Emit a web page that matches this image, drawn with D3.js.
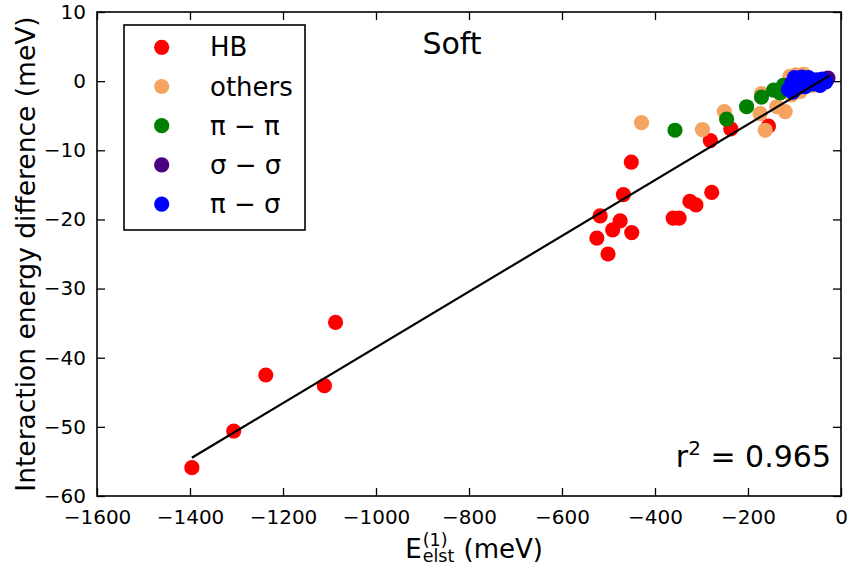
<!DOCTYPE html>
<html><head><meta charset="utf-8">
<script src="https://cdn.jsdelivr.net/npm/d3@7/dist/d3.min.js"></script>
<style>body{margin:0;background:#fff;} text{font-family:"DejaVu Sans",sans-serif;}</style>
</head><body><svg id="c" width="849" height="567"></svg>
<script>
const categories = ["HB", "others", "π − π", "σ − σ", "π − σ"];
const colors = ["#ff0000", "#f4a460", "#008000", "#4b0082", "#0000ff"];
const hbX = [-1396,-1306,-1237,-1111,-1087,-525,-518,-501,-491,-475,-468,-451,-450,-361,-348,-325,-312,-278,-281,-237,-156];
const hbY = [-55.9,-50.6,-42.5,-44.05,-34.9,-22.7,-19.5,-25.0,-21.5,-20.2,-16.4,-11.7,-21.9,-19.8,-19.8,-17.4,-17.9,-16.1,-8.6,-6.9,-6.5];
const othersX = [-429,-298,-251,-174,-163,-120,-138,-171,-106,-97,-80,-62,-88,-110];
const othersY = [-6.0,-7.0,-4.4,-4.7,-7.1,-4.4,-3.7,-1.8,-2.0,0.9,1.0,-0.6,-1.5,0.7];
const pipiX = [-357,-246,-203,-171,-145,-124,-131,-74,-88];
const pipiY = [-7.1,-5.5,-3.7,-2.3,-1.3,-0.6,-1.7,-0.3,0.2];
const sigsigX = [-28,-34,-40];
const sigsigY = [0.45,-0.1,0.2];
const pisigX = [-106,-95,-88,-67,-52,-45,-33,-77,-60,-100,-84,-70,-55,-40,-113,-104];
const pisigY = [-0.3,-1.0,-0.1,-0.1,0.2,-0.6,-0.1,-0.8,-0.4,0.5,0.6,0.5,-0.2,0.3,-1.2,-1.6];
const xTicks = [-1600,-1400,-1200,-1000,-800,-600,-400,-200,0];
const yTicks = [-60,-50,-40,-30,-20,-10,0,10];
const fitSlope = 0.0403, fitIntercept = 1.8, fitRange = [-1396, -25];
const r2Label = "0.965";
const titleText = "Soft";

const W = 849, H = 567, m = {l:97, r:8, t:12, b:71};
const svg = d3.select("#c");
const x = d3.scaleLinear().domain([-1600, 0]).range([m.l, W - m.r]);
const y = d3.scaleLinear().domain([-60, 10]).range([H - m.b, m.t]);
const fmt = d => d3.format("")(d);

const series = [[hbX,hbY],[othersX,othersY],[pipiX,pipiY],[sigsigX,sigsigY],[pisigX,pisigY]];
series.forEach((s, i) => {
  svg.append("g").selectAll("circle").data(s[0].map((v, j) => [v, s[1][j]])).join("circle")
    .attr("cx", d => x(d[0])).attr("cy", d => y(d[1])).attr("r", 7.6).attr("fill", colors[i]);
});

// fit line
svg.append("line").attr("x1", x(fitRange[0])).attr("y1", y(fitSlope*fitRange[0]+fitIntercept))
  .attr("x2", x(fitRange[1])).attr("y2", y(fitSlope*fitRange[1]+fitIntercept))
  .attr("stroke", "#000").attr("stroke-width", 2.2);

// axes with inward ticks
const tl = 8;
const axB = svg.append("g").attr("transform", `translate(0,${H-m.b})`)
  .call(d3.axisBottom(x).tickValues(xTicks).tickSizeInner(-tl).tickSizeOuter(0).tickPadding(14).tickFormat(fmt));
const axT = svg.append("g").attr("transform", `translate(0,${m.t})`)
  .call(d3.axisTop(x).tickValues(xTicks).tickSizeInner(-tl).tickSizeOuter(0).tickFormat(""));
const axL = svg.append("g").attr("transform", `translate(${m.l},0)`)
  .call(d3.axisLeft(y).tickValues(yTicks).tickSizeInner(-tl).tickSizeOuter(0).tickPadding(11).tickFormat(fmt));
const axR = svg.append("g").attr("transform", `translate(${W-m.r},0)`)
  .call(d3.axisRight(y).tickValues(yTicks).tickSizeInner(-tl).tickSizeOuter(0).tickFormat(""));
[axB, axT, axL, axR].forEach(a => {
  a.select(".domain").remove();
  a.selectAll(".tick line").attr("stroke", "#000").attr("stroke-width", 1.3);
  a.selectAll("text").attr("font-size", 20).attr("fill", "#000").attr("font-family", "DejaVu Sans");
});
axB.selectAll("text").attr("dy", "0.71em");
// frame
svg.append("rect").attr("x", m.l).attr("y", m.t).attr("width", W-m.l-m.r).attr("height", H-m.t-m.b)
  .attr("fill", "none").attr("stroke", "#000").attr("stroke-width", 1.6);

// y label
svg.append("text").attr("transform", `translate(35,${(m.t + H - m.b)/2}) rotate(-90)`)
  .attr("text-anchor", "middle").attr("font-size", 26.5).text("Interaction energy difference (meV)");

// x label with stacked super/subscript
const xl = svg.append("g");
const fs = 26, cx = (m.l + W - m.r)/2, base = 558;
const tE = xl.append("text").attr("y", base).attr("font-size", fs).text("E");
const tSup = xl.append("text").attr("y", base - 12).attr("font-size", 17.5).text("(1)");
const tSub = xl.append("text").attr("y", base + 4).attr("font-size", 17.5).text("elst");
const tU = xl.append("text").attr("y", base).attr("font-size", fs).text(" (meV)");
const wE = tE.node().getComputedTextLength();
const wS = Math.max(tSup.node().getComputedTextLength(), tSub.node().getComputedTextLength());
const wU = tU.node().getComputedTextLength();
const total = wE + wS + wU;
const x0 = cx - total/2;
tE.attr("x", x0); tSup.attr("x", x0 + wE + 1); tSub.attr("x", x0 + wE + 1);
tU.attr("x", x0 + wE + wS + 2).attr("xml:space", "preserve").style("white-space", "pre");

// title
svg.append("text").attr("x", 452).attr("y", 54).attr("text-anchor", "middle").attr("font-size", 30).text(titleText);

// r^2
const r2 = svg.append("text").attr("x", 831).attr("y", 467).attr("text-anchor", "end").attr("font-size", 30);
r2.append("tspan").text("r");
r2.append("tspan").attr("dy", -12).attr("font-size", 20).text("2");
r2.append("tspan").attr("dy", 12).text(" = " + r2Label).attr("xml:space", "preserve").style("white-space", "pre");

// legend
const lg = svg.append("g");
lg.append("rect").attr("x", 124).attr("y", 25).attr("width", 181).attr("height", 205)
  .attr("fill", "#fff").attr("stroke", "#000").attr("stroke-width", 1.6);
categories.forEach((c, i) => {
  const yy = 47.3 + i * 39.2;
  lg.append("circle").attr("cx", 161.7).attr("cy", yy).attr("r", 7.6).attr("fill", colors[i]);
  lg.append("text").attr("x", 210).attr("y", yy + 9).attr("font-size", 26).text(c);
});
</script></body></html>
